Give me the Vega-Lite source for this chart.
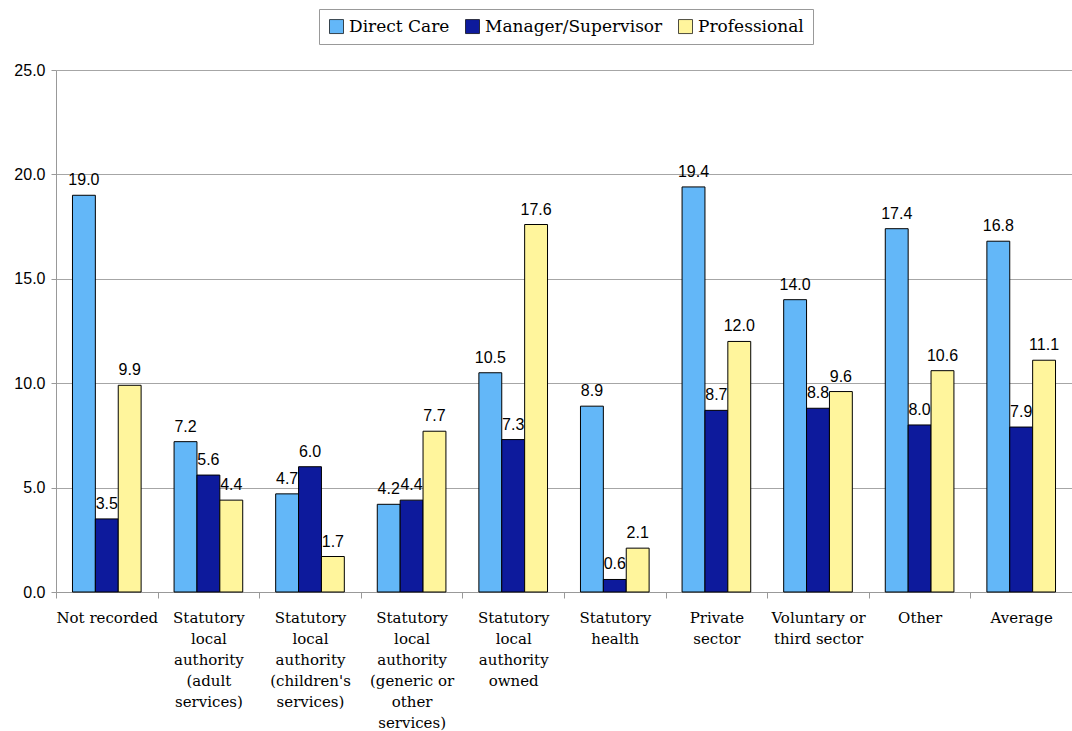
{
  "$schema": "https://vega.github.io/schema/vega-lite/v6.json",
  "width": 1016,
  "height": 522,
  "autosize": {"type": "none"},
  "padding": {"left": 56, "top": 70, "right": 0, "bottom": 139},
  "background": "white",
  "config": {
    "view": {"stroke": null},
    "font": "Liberation Sans"
  },
  "data": {
    "values": [
      {"sector": "Not recorded", "role": "Direct Care", "value": 19.0},
      {"sector": "Not recorded", "role": "Manager/Supervisor", "value": 3.5},
      {"sector": "Not recorded", "role": "Professional", "value": 9.9},
      {"sector": "Statutory\nlocal\nauthority\n(adult\nservices)", "role": "Direct Care", "value": 7.2},
      {"sector": "Statutory\nlocal\nauthority\n(adult\nservices)", "role": "Manager/Supervisor", "value": 5.6},
      {"sector": "Statutory\nlocal\nauthority\n(adult\nservices)", "role": "Professional", "value": 4.4},
      {"sector": "Statutory\nlocal\nauthority\n(children's\nservices)", "role": "Direct Care", "value": 4.7},
      {"sector": "Statutory\nlocal\nauthority\n(children's\nservices)", "role": "Manager/Supervisor", "value": 6.0},
      {"sector": "Statutory\nlocal\nauthority\n(children's\nservices)", "role": "Professional", "value": 1.7},
      {"sector": "Statutory\nlocal\nauthority\n(generic or\nother\nservices)", "role": "Direct Care", "value": 4.2},
      {"sector": "Statutory\nlocal\nauthority\n(generic or\nother\nservices)", "role": "Manager/Supervisor", "value": 4.4},
      {"sector": "Statutory\nlocal\nauthority\n(generic or\nother\nservices)", "role": "Professional", "value": 7.7},
      {"sector": "Statutory\nlocal\nauthority\nowned", "role": "Direct Care", "value": 10.5},
      {"sector": "Statutory\nlocal\nauthority\nowned", "role": "Manager/Supervisor", "value": 7.3},
      {"sector": "Statutory\nlocal\nauthority\nowned", "role": "Professional", "value": 17.6},
      {"sector": "Statutory\nhealth", "role": "Direct Care", "value": 8.9},
      {"sector": "Statutory\nhealth", "role": "Manager/Supervisor", "value": 0.6},
      {"sector": "Statutory\nhealth", "role": "Professional", "value": 2.1},
      {"sector": "Private\nsector", "role": "Direct Care", "value": 19.4},
      {"sector": "Private\nsector", "role": "Manager/Supervisor", "value": 8.7},
      {"sector": "Private\nsector", "role": "Professional", "value": 12.0},
      {"sector": "Voluntary or\nthird sector", "role": "Direct Care", "value": 14.0},
      {"sector": "Voluntary or\nthird sector", "role": "Manager/Supervisor", "value": 8.8},
      {"sector": "Voluntary or\nthird sector", "role": "Professional", "value": 9.6},
      {"sector": "Other", "role": "Direct Care", "value": 17.4},
      {"sector": "Other", "role": "Manager/Supervisor", "value": 8.0},
      {"sector": "Other", "role": "Professional", "value": 10.6},
      {"sector": "Average", "role": "Direct Care", "value": 16.8},
      {"sector": "Average", "role": "Manager/Supervisor", "value": 7.9},
      {"sector": "Average", "role": "Professional", "value": 11.1}
    ]
  },
  "encoding": {
    "x": {
      "field": "sector",
      "type": "nominal",
      "sort": null,
      "scale": {"paddingInner": 0, "paddingOuter": 0},
      "axis": {
        "title": null,
        "labelAngle": 0,
        "tickBand": "extent",
        "labelExpr": "split(datum.label, '\\n')",
        "labelFont": "DejaVu Serif",
        "labelFontSize": 15,
        "labelLineHeight": 21,
        "labelColor": "black",
        "labelPadding": 12,
        "labelLimit": 0,
        "domainColor": "#999999",
        "tickColor": "#999999",
        "tickSize": 6,
        "grid": false
      }
    },
    "xOffset": {
      "field": "role",
      "type": "nominal",
      "sort": ["Direct Care", "Manager/Supervisor", "Professional"],
      "scale": {"paddingInner": 0, "paddingOuter": 0.72}
    },
    "y": {
      "field": "value",
      "type": "quantitative",
      "scale": {"domain": [0, 25], "nice": false},
      "axis": {
        "title": null,
        "values": [0, 5, 10, 15, 20, 25],
        "format": ".1f",
        "labelFont": "Liberation Sans",
        "labelFontSize": 16,
        "labelColor": "black",
        "labelPadding": 6,
        "grid": true,
        "gridColor": "#a6a6a6",
        "domainColor": "#999999",
        "tickColor": "#999999",
        "tickSize": 5
      }
    }
  },
  "layer": [
    {
      "mark": {"type": "bar", "stroke": "black", "strokeWidth": 1},
      "encoding": {
        "color": {
          "field": "role",
          "type": "nominal",
          "scale": {
            "domain": ["Direct Care", "Manager/Supervisor", "Professional"],
            "range": ["#63b7f8", "#0d1a9c", "#fff59c"]
          },
          "legend": {
            "title": null,
            "orient": "none",
            "legendX": 263,
            "legendY": -61,
            "direction": "horizontal",
            "labelFont": "DejaVu Serif",
            "labelFontSize": 17,
            "labelColor": "black",
            "labelOffset": 4,
            "labelLimit": 0,
            "symbolType": "square",
            "symbolSize": 196,
            "symbolStrokeColor": "black",
            "symbolStrokeWidth": 0.7,
            "symbolOpacity": 1,
            "columnPadding": 14,
            "strokeColor": "#999999",
            "fillColor": "white",
            "padding": 9
          }
        }
      }
    },
    {
      "mark": {
        "type": "text",
        "align": "center",
        "baseline": "alphabetic",
        "dy": -10,
        "font": "Liberation Sans",
        "fontSize": 16,
        "color": "black"
      },
      "encoding": {
        "text": {"field": "value", "type": "quantitative", "format": ".1f"}
      }
    }
  ]
}
